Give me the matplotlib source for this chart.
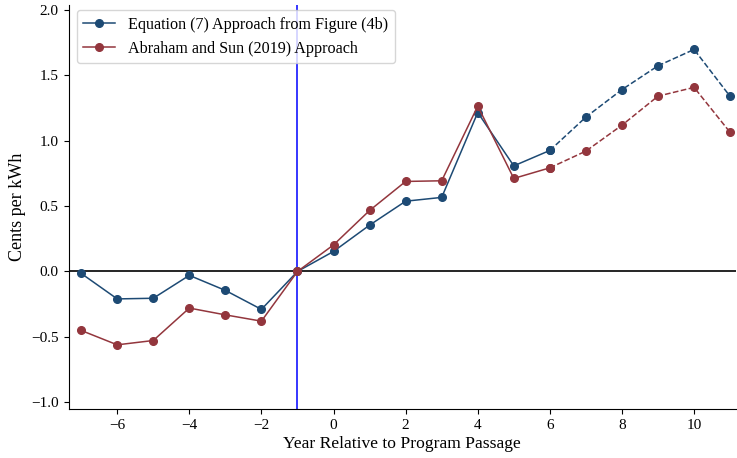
import matplotlib
matplotlib.use("Agg")
import matplotlib.pyplot as plt

plt.rcParams['font.family'] = ['Liberation Serif', 'DejaVu Serif']
plt.rcParams['mathtext.fontset'] = 'stix'

# event-time estimates
years = [-7, -6, -5, -4, -3, -2, -1, 0, 1, 2, 3, 4, 5, 6, 7, 8, 9, 10, 11]
eq7 = [-0.015, -0.21, -0.205, -0.03, -0.145, -0.29, 0.0, 0.153, 0.354, 0.537,
       0.566, 1.215, 0.807, 0.925, 1.18, 1.39, 1.572, 1.697, 1.338]
abr_sun = [-0.451, -0.561, -0.528, -0.28, -0.332, -0.38, 0.0, 0.203, 0.466, 0.688,
           0.693, 1.264, 0.711, 0.792, 0.92, 1.118, 1.34, 1.407, 1.063]
split_year = 6  # dashed from here on

blue = '#1d4a74'
red = '#93363d'


def plot_series(ax, x, y, color, label):
    k = x.index(split_year)
    ax.plot(x[:k + 1], y[:k + 1], '-o', color=color, lw=1.1, ms=5.5, label=label)
    ax.plot(x[k:], y[k:], '--o', color=color, lw=1.1, ms=5.5)


def main() -> None:
    fig = plt.figure(figsize=(7.37, 4.58), dpi=100)
    ax = fig.add_axes([0.093, 0.106, 0.905, 0.884])

    ax.axhline(0, color='black', lw=1.2)
    ax.axvline(-1, color='blue', lw=1.1)
    plot_series(ax, years, eq7, blue, "Equation (7) Approach from Figure (4b)")
    plot_series(ax, years, abr_sun, red, "Abraham and Sun (2019) Approach")

    ax.set_xlim(-7.35, 11.15)
    ax.set_ylim(-1.055, 2.04)
    ax.set_xticks([-6, -4, -2, 0, 2, 4, 6, 8, 10])
    ax.set_yticks([-1.0, -0.5, 0.0, 0.5, 1.0, 1.5, 2.0])
    ax.xaxis.set_major_formatter(plt.FuncFormatter(lambda v, p: f"{v:.0f}".replace('-', '\u2212')))
    ax.yaxis.set_major_formatter(plt.FuncFormatter(lambda v, p: f"{v:.1f}".replace('-', '\u2212')))
    ax.tick_params(labelsize=11)
    ax.spines['top'].set_visible(False)
    ax.spines['right'].set_visible(False)
    ax.set_xlabel("Year Relative to Program Passage", fontsize=12.6, labelpad=3)
    ax.set_ylabel("Cents per kWh", fontsize=13)
    ax.legend(loc='upper left', bbox_to_anchor=(0.0123, 0.986), borderaxespad=0,
              fontsize=11.6, frameon=True)

    fig.savefig("out.png", dpi=100)


if __name__ == "__main__":
    main()
